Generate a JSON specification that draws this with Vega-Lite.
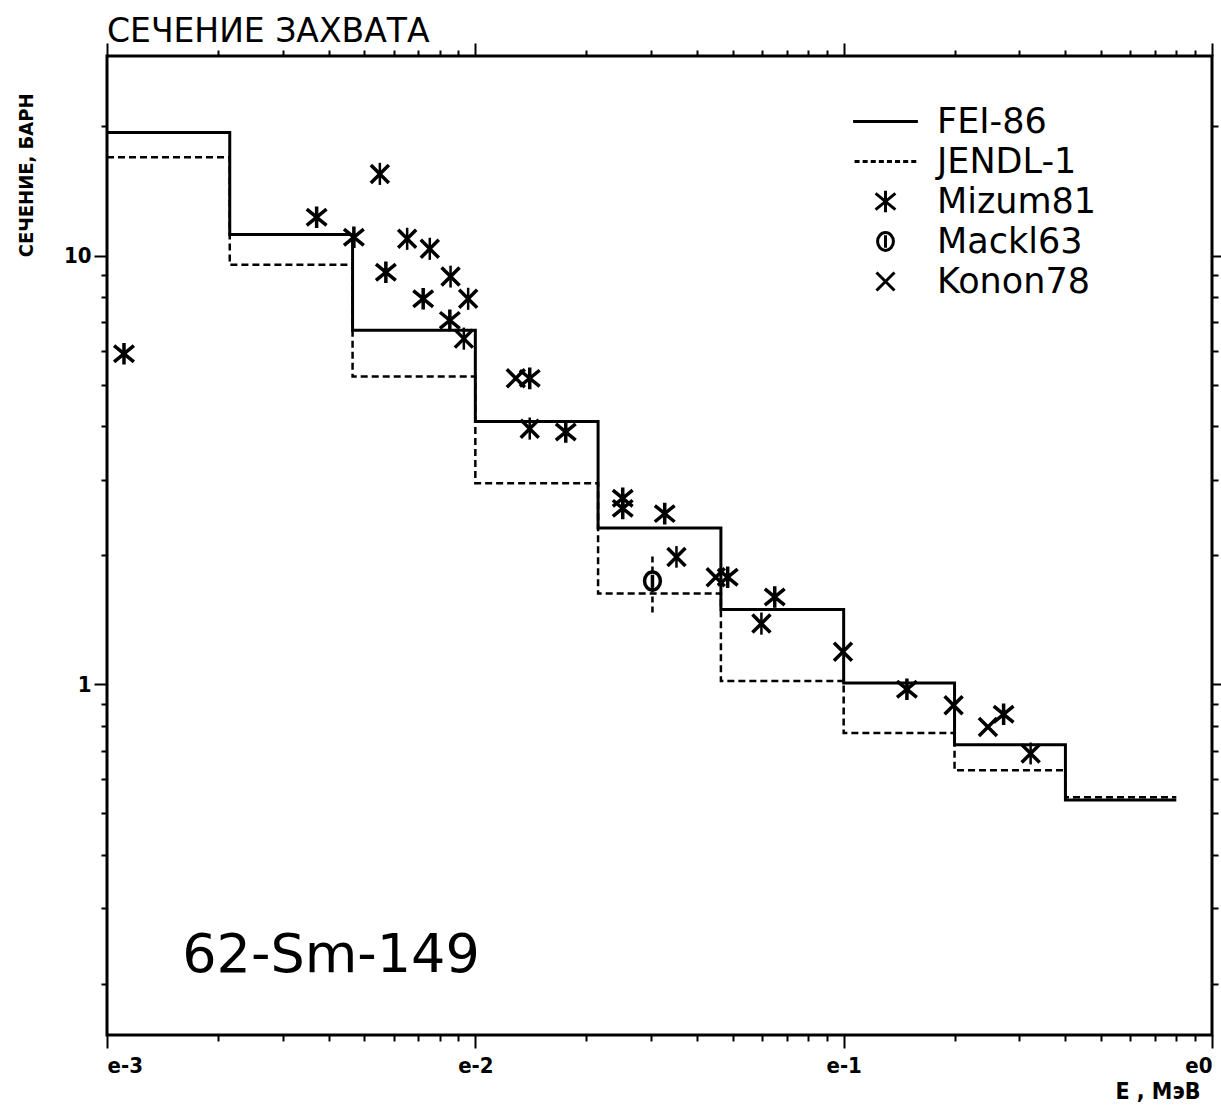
{
  "$schema": "https://vega.github.io/schema/vega-lite/v6.json",
  "width": 1105,
  "height": 979,
  "autosize": {"type": "none"},
  "padding": {"left": 107, "top": 56, "right": 9, "bottom": 70},
  "background": "white",
  "title": {"text": "СЕЧЕНИЕ ЗАХВАТА", "anchor": "start", "frame": "group", "font": "DejaVu Sans", "fontSize": 33, "fontWeight": "normal", "color": "black", "baseline": "alphabetic", "offset": 1, "dy": 34},
  "config": {
    "view": {"stroke": "black", "strokeWidth": 3},
    "axis": {"domain": false, "grid": false, "tickColor": "black", "tickWidth": 2, "labelColor": "black", "titleColor": "black"}
  },
  "datasets": {
    "steps": [
      {"model": "FEI-86", "e": 0.001, "xs": 19.35},
      {"model": "FEI-86", "e": 0.002154, "xs": 11.19},
      {"model": "FEI-86", "e": 0.004642, "xs": 6.69},
      {"model": "FEI-86", "e": 0.01, "xs": 4.10},
      {"model": "FEI-86", "e": 0.02154, "xs": 2.314},
      {"model": "FEI-86", "e": 0.04642, "xs": 1.493},
      {"model": "FEI-86", "e": 0.1, "xs": 1.007},
      {"model": "FEI-86", "e": 0.2, "xs": 0.723},
      {"model": "FEI-86", "e": 0.4, "xs": 0.537},
      {"model": "FEI-86", "e": 0.8, "xs": 0.537},
      {"model": "JENDL-1", "e": 0.001, "xs": 16.95},
      {"model": "JENDL-1", "e": 0.002154, "xs": 9.51},
      {"model": "JENDL-1", "e": 0.004642, "xs": 5.22},
      {"model": "JENDL-1", "e": 0.01, "xs": 2.945},
      {"model": "JENDL-1", "e": 0.02154, "xs": 1.627},
      {"model": "JENDL-1", "e": 0.04642, "xs": 1.018},
      {"model": "JENDL-1", "e": 0.1, "xs": 0.770},
      {"model": "JENDL-1", "e": 0.2, "xs": 0.630},
      {"model": "JENDL-1", "e": 0.4, "xs": 0.545},
      {"model": "JENDL-1", "e": 0.8, "xs": 0.545}
    ],
    "points": [
      {"series": "Mizum81", "e": 0.001112, "xs": 5.90},
      {"series": "Mizum81", "e": 0.003708, "xs": 12.28},
      {"series": "Mizum81", "e": 0.00468, "xs": 11.03},
      {"series": "Mizum81", "e": 0.005716, "xs": 9.14},
      {"series": "Mizum81", "e": 0.007218, "xs": 7.93},
      {"series": "Mizum81", "e": 0.008526, "xs": 7.06},
      {"series": "Mizum81", "e": 0.01405, "xs": 5.17},
      {"series": "Mizum81", "e": 0.0176, "xs": 3.875},
      {"series": "Mizum81", "e": 0.02513, "xs": 2.715},
      {"series": "Mizum81", "e": 0.02513, "xs": 2.572},
      {"series": "Mizum81", "e": 0.03267, "xs": 2.50},
      {"series": "Mizum81", "e": 0.04843, "xs": 1.776},
      {"series": "Mizum81", "e": 0.06499, "xs": 1.598},
      {"series": "Mizum81", "e": 0.1485, "xs": 0.9735},
      {"series": "Mizum81", "e": 0.2718, "xs": 0.851},
      {"series": "Mackl63", "e": 0.03026, "xs": 1.741},
      {"series": "Konon78", "e": 0.005505, "xs": 15.50},
      {"series": "Konon78", "e": 0.00653, "xs": 10.94},
      {"series": "Konon78", "e": 0.007522, "xs": 10.37},
      {"series": "Konon78", "e": 0.008565, "xs": 8.93},
      {"series": "Konon78", "e": 0.009561, "xs": 7.93},
      {"series": "Konon78", "e": 0.009307, "xs": 6.40},
      {"series": "Konon78", "e": 0.01288, "xs": 5.17},
      {"series": "Konon78", "e": 0.01405, "xs": 3.945},
      {"series": "Konon78", "e": 0.03516, "xs": 1.98},
      {"series": "Konon78", "e": 0.04494, "xs": 1.776},
      {"series": "Konon78", "e": 0.0598, "xs": 1.385},
      {"series": "Konon78", "e": 0.09956, "xs": 1.19},
      {"series": "Konon78", "e": 0.1988, "xs": 0.893},
      {"series": "Konon78", "e": 0.2464, "xs": 0.795},
      {"series": "Konon78", "e": 0.3218, "xs": 0.6894}
    ],
    "errors": [
      {"series": "Mackl63", "e": 0.03026, "lo": 1.47, "hi": 2.0}
    ],
    "konerr": [
      {"e": 0.005505, "lo": 14.61, "hi": 16.45},
      {"e": 0.00653, "lo": 10.31, "hi": 11.61},
      {"e": 0.007522, "lo": 9.77, "hi": 11.00},
      {"e": 0.008565, "lo": 8.42, "hi": 9.47},
      {"e": 0.009561, "lo": 7.47, "hi": 8.41},
      {"e": 0.009307, "lo": 6.03, "hi": 6.79},
      {"e": 0.01405, "lo": 3.72, "hi": 4.19},
      {"e": 0.03516, "lo": 1.87, "hi": 2.10},
      {"e": 0.0598, "lo": 1.305, "hi": 1.47},
      {"e": 0.3218, "lo": 0.650, "hi": 0.731}
    ]
  },
  "layer": [
    {
      "data": {"name": "steps"},
      "transform": [{"filter": "datum.model == 'FEI-86'"}],
      "mark": {"type": "line", "interpolate": "step-after", "stroke": "black", "strokeWidth": 3},
      "encoding": {
        "x": {"field": "e", "type": "quantitative", "scale": {"type": "log", "domain": [0.001, 1], "nice": false},
          "axis": {"orient": "bottom",
            "values": [0.001,0.002,0.003,0.004,0.005,0.006,0.007,0.008,0.009,0.01,0.02,0.03,0.04,0.05,0.06,0.07,0.08,0.09,0.1,0.2,0.3,0.4,0.5,0.6,0.7,0.8,0.9,1],
            "labelExpr": "abs(log(datum.value)/LN10 - round(log(datum.value)/LN10)) < 0.001 ? 'e' + round(log(datum.value)/LN10) : ''",
            "tickSize": {"condition": {"test": "abs(log(datum.value)/LN10 - round(log(datum.value)/LN10)) < 0.001", "value": 13}, "value": 6},
            "labelFont": "DejaVu Sans Condensed, DejaVu Sans", "labelFontWeight": "bold", "labelFontSize": 22,
            "labelFlush": true, "labelOverlap": false, "labelPadding": 7,
            "title": "E , МэВ", "titleFont": "DejaVu Sans Condensed, DejaVu Sans", "titleFontWeight": "bold", "titleFontSize": 23,
            "titleX": 1093, "titleY": 63, "titleAlign": "right", "titleBaseline": "alphabetic"}},
        "y": {"field": "xs", "type": "quantitative", "scale": {"type": "log", "domain": [0.152, 29.2], "nice": false},
          "axis": {"orient": "left",
            "values": [0.2,0.3,0.4,0.5,0.6,0.7,0.8,0.9,1,2,3,4,5,6,7,8,9,10,20],
            "labelExpr": "datum.value == 1 ? '1' : datum.value == 10 ? '10' : ''",
            "tickSize": {"condition": {"test": "datum.value == 1 || datum.value == 10", "value": 13}, "value": 6},
            "labelFont": "DejaVu Sans Condensed, DejaVu Sans", "labelFontWeight": "bold", "labelFontSize": 22,
            "labelOverlap": false, "labelPadding": 3,
            "title": "СЕЧЕНИЕ, БАРН", "titleFont": "DejaVu Sans Condensed, DejaVu Sans", "titleFontWeight": "bold", "titleFontSize": 20,
            "titleX": -81, "titleY": 37, "titleAlign": "right", "titleBaseline": "middle", "titleAngle": -90}}
      }
    },
    {
      "data": {"name": "steps"},
      "transform": [{"filter": "datum.model == 'JENDL-1'"}],
      "mark": {"type": "line", "interpolate": "step-after", "stroke": "black", "strokeWidth": 2.5, "strokeDash": [7, 4]},
      "encoding": {
        "x": {"field": "e", "type": "quantitative", "scale": {"type": "log", "domain": [0.001, 1], "nice": false}, "axis": null},
        "y": {"field": "xs", "type": "quantitative", "scale": {"type": "log", "domain": [0.152, 29.2], "nice": false}, "axis": null}
      }
    },
    {
      "data": {"name": "errors"},
      "mark": {"type": "rule", "stroke": "black", "strokeWidth": 2.5, "strokeDash": [6, 4]},
      "encoding": {
        "x": {"field": "e", "type": "quantitative", "scale": {"type": "log", "domain": [0.001, 1], "nice": false}, "axis": null},
        "y": {"field": "lo", "type": "quantitative", "scale": {"type": "log", "domain": [0.152, 29.2], "nice": false}, "axis": null},
        "y2": {"field": "hi"}
      }
    },
    {
      "data": {"name": "konerr"},
      "mark": {"type": "rule", "stroke": "black", "strokeWidth": 2.5},
      "encoding": {
        "x": {"field": "e", "type": "quantitative", "scale": {"type": "log", "domain": [0.001, 1], "nice": false}, "axis": null},
        "y": {"field": "lo", "type": "quantitative", "scale": {"type": "log", "domain": [0.152, 29.2], "nice": false}, "axis": null},
        "y2": {"field": "hi"}
      }
    },
    {
      "data": {"name": "points"},
      "mark": {"type": "point", "filled": false, "stroke": "black", "strokeWidth": 3.5, "size": 1296, "opacity": 1},
      "encoding": {
        "x": {"field": "e", "type": "quantitative", "scale": {"type": "log", "domain": [0.001, 1], "nice": false},
          "axis": {"orient": "top",
            "values": [0.001,0.002,0.003,0.004,0.005,0.006,0.007,0.008,0.009,0.01,0.02,0.03,0.04,0.05,0.06,0.07,0.08,0.09,0.1,0.2,0.3,0.4,0.5,0.6,0.7,0.8,0.9,1],
            "labels": false, "title": null,
            "tickSize": {"condition": {"test": "abs(log(datum.value)/LN10 - round(log(datum.value)/LN10)) < 0.001", "value": 13}, "value": 6}}},
        "y": {"field": "xs", "type": "quantitative", "scale": {"type": "log", "domain": [0.152, 29.2], "nice": false},
          "axis": {"orient": "right",
            "values": [0.2,0.3,0.4,0.5,0.6,0.7,0.8,0.9,1,2,3,4,5,6,7,8,9,10,20],
            "labels": false, "title": null,
            "tickSize": {"condition": {"test": "datum.value == 1 || datum.value == 10", "value": 13}, "value": 6}}},
        "shape": {"field": "series", "type": "nominal",
          "scale": {"domain": ["FEI-86", "JENDL-1", "Mizum81", "Mackl63", "Konon78"],
            "range": [
              "M-1.8,0L1.8,0",
              "M-1.72,0L-1.44,0M-1.27,0L-0.99,0M-0.82,0L-0.54,0M-0.37,0L-0.09,0M0.08,0L0.36,0M0.53,0L0.81,0M0.98,0L1.26,0M1.43,0L1.71,0",
              "M0,-0.6L0,0.6M-0.55,-0.45L0.55,0.45M-0.55,0.45L0.55,-0.45",
              "M0.44,0A0.44,0.5 0 1,1 -0.44,0A0.44,0.5 0 1,1 0.44,0Z M0,-0.35L0,0.35",
              "M-0.5,-0.5L0.5,0.5M-0.5,0.5L0.5,-0.5"
            ]},
          "legend": {"orient": "none", "legendX": 759, "legendY": 46, "title": null, "padding": 0,
            "symbolSize": 1296, "symbolStrokeWidth": 3, "symbolStrokeColor": "black", "symbolFillColor": "transparent",
            "labelFont": "DejaVu Sans", "labelFontSize": 35, "labelColor": "black", "labelOffset": 32,
            "rowPadding": 2, "symbolLimit": 0}}
      }
    },
    {
      "data": {"values": [{}]},
      "mark": {"type": "text", "text": "62-Sm-149", "align": "left", "baseline": "alphabetic", "font": "DejaVu Sans", "fontSize": 54, "color": "black"},
      "encoding": {
        "x": {"datum": 0.0016, "type": "quantitative", "scale": {"type": "log", "domain": [0.001, 1], "nice": false}, "axis": null},
        "y": {"datum": 0.2132, "type": "quantitative", "scale": {"type": "log", "domain": [0.152, 29.2], "nice": false}, "axis": null}
      }
    }
  ],
  "resolve": {"axis": {"x": "independent", "y": "independent"}}
}
